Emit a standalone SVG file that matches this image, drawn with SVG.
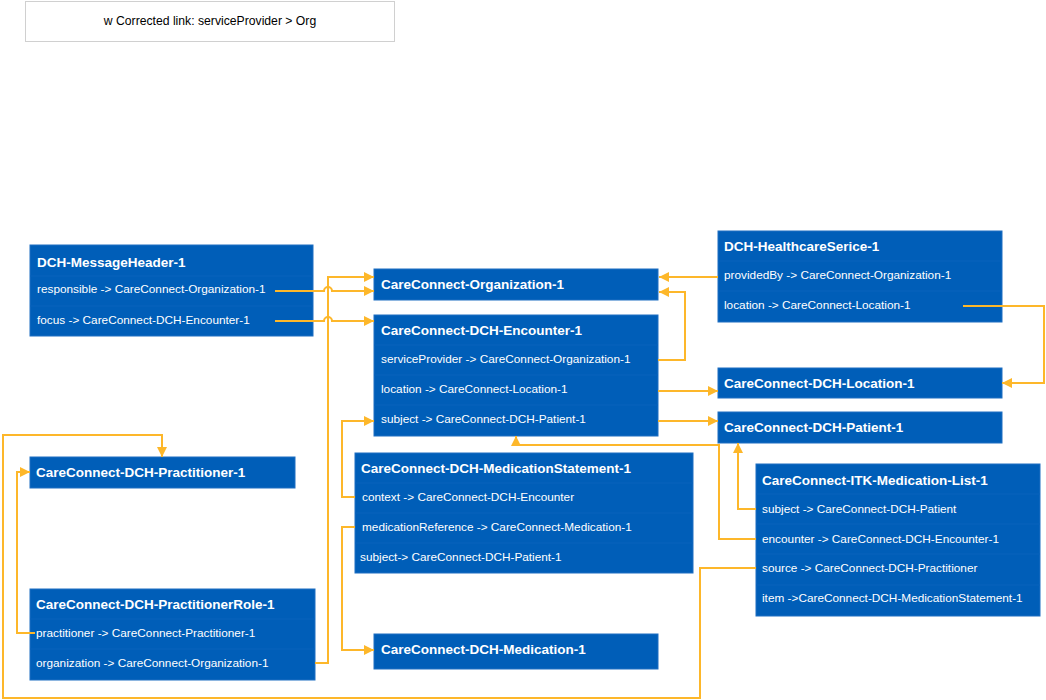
<svg xmlns="http://www.w3.org/2000/svg" width="1046" height="700" viewBox="0 0 1046 700">
<style>
.box{fill:#005EB8;stroke:#1f6fc2;stroke-width:1}
.div{stroke:#0862bc;stroke-width:1}
.t{font-family:"Liberation Sans",Arial,sans-serif;font-size:13.5px;font-weight:bold;fill:#fff}
.r{font-family:"Liberation Sans",Arial,sans-serif;font-size:11.8px;fill:#fff}
.c{fill:none;stroke:#FDB72A;stroke-width:2}
.note{fill:#fff;stroke:#d0d0d0;stroke-width:1}
.nt{font-family:"Liberation Sans",Arial,sans-serif;font-size:12.2px;fill:#000}
</style>
<defs>
<marker id="ah" markerUnits="userSpaceOnUse" markerWidth="11" markerHeight="11" refX="10" refY="5" orient="auto">
<path d="M0,0 L10,5 L0,10 z" fill="#FDB72A"/>
</marker>
</defs>
<rect width="1046" height="700" fill="#fff"/>
<g id="note">
<rect class="note" x="25.5" y="1.5" width="369" height="40"/>
<text class="nt" x="210" y="25" text-anchor="middle">w Corrected link: serviceProvider &gt; Org</text>
</g>
<g id="messageheader">
<rect class="box" x="30" y="245" width="283" height="91"/>
<line class="div" x1="30" y1="276" x2="313" y2="276"/>
<line class="div" x1="30" y1="306" x2="313" y2="306"/>
<text class="t" x="37" y="267">DCH-MessageHeader-1</text>
<text class="r" x="37" y="293">responsible -&gt; CareConnect-Organization-1</text>
<text class="r" x="37" y="324">focus -&gt; CareConnect-DCH-Encounter-1</text>
</g>
<g id="organization">
<rect class="box" x="374" y="269" width="284" height="31"/>
<text class="t" x="381" y="289">CareConnect-Organization-1</text>
</g>
<g id="encounter">
<rect class="box" x="374" y="315" width="284" height="121"/>
<line class="div" x1="374" y1="345" x2="658" y2="345"/>
<line class="div" x1="374" y1="375" x2="658" y2="375"/>
<line class="div" x1="374" y1="405" x2="658" y2="405"/>
<text class="t" x="381" y="335">CareConnect-DCH-Encounter-1</text>
<text class="r" x="381" y="363">serviceProvider -&gt; CareConnect-Organization-1</text>
<text class="r" x="381" y="393">location -&gt; CareConnect-Location-1</text>
<text class="r" x="381" y="423">subject -&gt; CareConnect-DCH-Patient-1</text>
</g>
<g id="healthcareservice">
<rect class="box" x="718" y="231" width="284" height="91"/>
<line class="div" x1="718" y1="261" x2="1002" y2="261"/>
<line class="div" x1="718" y1="291" x2="1002" y2="291"/>
<text class="t" x="724" y="251">DCH-HealthcareSerice-1</text>
<text class="r" x="724" y="279">providedBy -&gt; CareConnect-Organization-1</text>
<text class="r" x="724" y="309">location -&gt; CareConnect-Location-1</text>
</g>
<g id="location">
<rect class="box" x="718" y="368" width="284" height="30"/>
<text class="t" x="724" y="388">CareConnect-DCH-Location-1</text>
</g>
<g id="patient">
<rect class="box" x="718" y="412" width="284" height="31"/>
<text class="t" x="724" y="432">CareConnect-DCH-Patient-1</text>
</g>
<g id="practitioner">
<rect class="box" x="30" y="457" width="265" height="31"/>
<text class="t" x="36" y="477">CareConnect-DCH-Practitioner-1</text>
</g>
<g id="medicationstatement">
<rect class="box" x="355" y="453" width="338" height="120"/>
<line class="div" x1="355" y1="483" x2="693" y2="483"/>
<line class="div" x1="355" y1="513" x2="693" y2="513"/>
<line class="div" x1="355" y1="543" x2="693" y2="543"/>
<text class="t" x="361" y="473">CareConnect-DCH-MedicationStatement-1</text>
<text class="r" x="362" y="501">context -&gt; CareConnect-DCH-Encounter</text>
<text class="r" x="362" y="531">medicationReference -&gt; CareConnect-Medication-1</text>
<text class="r" x="360" y="561">subject-&gt; CareConnect-DCH-Patient-1</text>
</g>
<g id="medicationlist">
<rect class="box" x="756" y="464" width="284" height="152"/>
<line class="div" x1="756" y1="494" x2="1040" y2="494"/>
<line class="div" x1="756" y1="524" x2="1040" y2="524"/>
<line class="div" x1="756" y1="554" x2="1040" y2="554"/>
<line class="div" x1="756" y1="585" x2="1040" y2="585"/>
<text class="t" x="762" y="485">CareConnect-ITK-Medication-List-1</text>
<text class="r" x="762" y="513">subject -&gt; CareConnect-DCH-Patient</text>
<text class="r" x="762" y="543">encounter -&gt; CareConnect-DCH-Encounter-1</text>
<text class="r" x="762" y="572">source -&gt; CareConnect-DCH-Practitioner</text>
<text class="r" x="762" y="602">item -&gt;CareConnect-DCH-MedicationStatement-1</text>
</g>
<g id="practitionerrole">
<rect class="box" x="30" y="589" width="285" height="91"/>
<line class="div" x1="30" y1="619" x2="315" y2="619"/>
<line class="div" x1="30" y1="649" x2="315" y2="649"/>
<text class="t" x="36" y="609">CareConnect-DCH-PractitionerRole-1</text>
<text class="r" x="36" y="637">practitioner -&gt; CareConnect-Practitioner-1</text>
<text class="r" x="36" y="667">organization -&gt; CareConnect-Organization-1</text>
</g>
<g id="medication">
<rect class="box" x="374" y="634" width="284" height="35"/>
<text class="t" x="381" y="654">CareConnect-DCH-Medication-1</text>
</g>
<g id="connectors">
<path class="c" marker-end="url(#ah)" d="M275 291 H324 A4 4 0 0 1 332 291 H374"/>
<path class="c" marker-end="url(#ah)" d="M275 321 H324 A4 4 0 0 1 332 321 H374"/>
<path class="c" marker-end="url(#ah)" d="M315 663 H328 V277 H374"/>
<path class="c" marker-end="url(#ah)" d="M718 277 H659"/>
<path class="c" marker-end="url(#ah)" d="M658 360 H685 V292 H659"/>
<path class="c" marker-end="url(#ah)" d="M658 391 H718"/>
<path class="c" marker-end="url(#ah)" d="M658 421 H718"/>
<path class="c" marker-end="url(#ah)" d="M963 306 H1044 V383 H1002"/>
<path class="c" marker-end="url(#ah)" d="M355 497 H342 V421 H374"/>
<path class="c" marker-end="url(#ah)" d="M355 527 H342 V650 H374"/>
<path class="c" marker-end="url(#ah)" d="M756 509 H738 V443"/>
<path class="c" marker-end="url(#ah)" d="M756 539 H719 V445 H516 V436"/>
<path class="c" marker-end="url(#ah)" d="M756 568 H700 V698 H3 V435 H162 V457"/>
<path class="c" marker-end="url(#ah)" d="M35 633 H17 V472 H30"/>
</g>
</svg>
